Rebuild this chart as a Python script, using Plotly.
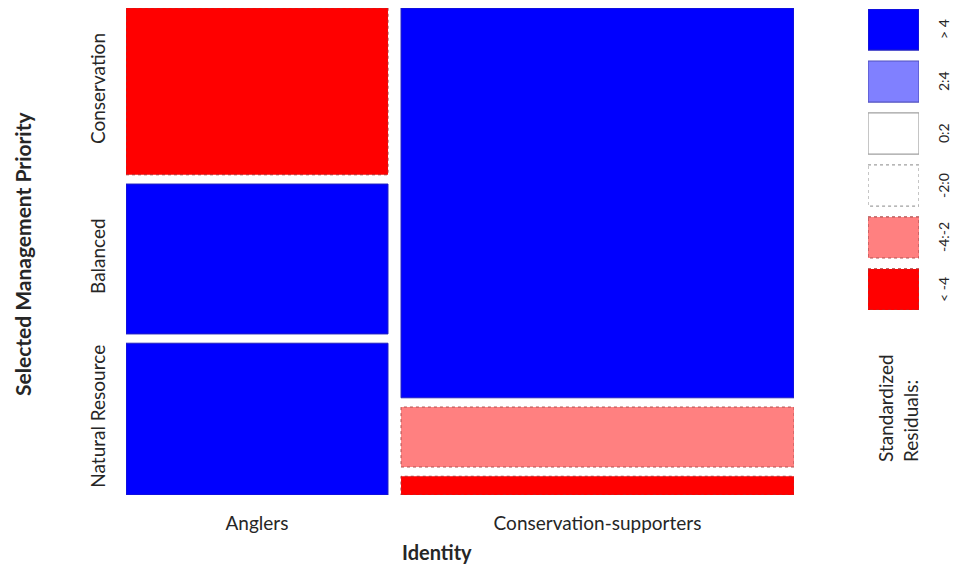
import plotly.graph_objects as go

# Contingency table: Identity x Selected Management Priority
identities = ["Anglers", "Conservation-supporters"]
priorities = ["Natural Resource", "Balanced", "Conservation"]  # bottom -> top
counts = {
    "Anglers": [81, 80, 89],
    "Conservation-supporters": [15, 48, 312],
}
# Standardized residual class of each cell (same order as priorities)
residual_class = {
    "Anglers": ["> 4", "> 4", "< -4"],
    "Conservation-supporters": ["< -4", "-4:-2", "> 4"],
}

legend_labels = ["> 4", "2:4", "0:2", "-2:0", "-4:-2", "< -4"]
legend_fill = ["#0000FF", "#8080FF", "#FFFFFF", "#FFFFFF", "#FF8080", "#FF0000"]
legend_line = ["#2020C0", "#5050C0", "#A0A0A0", "#A0A0A0", "#B05050", "#B03030"]
legend_dash = ["solid", "solid", "solid", "dot", "dot", "dot"]
style = {lab: (f, l, d) for lab, f, l, d in zip(legend_labels, legend_fill, legend_line, legend_dash)}

FONT = "Lato"
TXT = "#262626"
GAP_X = 0.0195
GAP_Y = 0.019

fig = go.Figure()

# Mosaic cells: widths from column totals, heights from conditional shares
grand = sum(sum(v) for v in counts.values())
usable_x = 1 - GAP_X * (len(identities) - 1)
x_left = 0.0
col_centers = []
angler_row_centers = []
for ident in identities:
    col_total = sum(counts[ident])
    w = usable_x * col_total / grand
    usable_y = 1 - GAP_Y * (len(priorities) - 1)
    y_bot = 0.0
    for k, pri in enumerate(priorities):
        h = usable_y * counts[ident][k] / col_total
        fill, line, dash = style[residual_class[ident][k]]
        x0, x1, y0, y1 = x_left, x_left + w, y_bot, y_bot + h
        fig.add_trace(go.Scatter(
            x=[x0, x1, x1, x0, x0], y=[y0, y0, y1, y1, y0],
            mode="lines", fill="toself", fillcolor=fill,
            line=dict(color=line, width=1, dash=dash),
            name=f"{ident} / {pri}", showlegend=False, hoverinfo="name",
            xaxis="x", yaxis="y",
        ))
        if ident == identities[0]:
            angler_row_centers.append((y0 + y1) / 2)
        y_bot = y1 + GAP_Y
    col_centers.append(x_left + w / 2)
    x_left += w + GAP_X

# Residual key boxes
BOX_H = 0.79
for i, lab in enumerate(legend_labels):
    fill, line, dash = style[lab]
    y0, y1 = i, i + BOX_H
    fig.add_trace(go.Scatter(
        x=[0, 1, 1, 0, 0], y=[y0, y0, y1, y1, y0],
        mode="lines", fill="toself", fillcolor=fill,
        line=dict(color=line, width=1.2, dash=dash),
        name=lab, showlegend=False, hoverinfo="name",
        xaxis="x2", yaxis="y2",
    ))
    fig.add_annotation(
        x=1, y=i + BOX_H / 2, xref="x2", yref="y2", xanchor="left", yanchor="middle",
        xshift=14, text=lab, textangle=-90, showarrow=False,
        font=dict(family=FONT, size=14, color=TXT),
    )

W, H = 955, 571
fig.update_layout(
    width=W, height=H, margin=dict(l=0, r=0, t=0, b=0),
    paper_bgcolor="white", plot_bgcolor="white",
    xaxis=dict(
        domain=[126 / W, 794 / W], range=[0, 1], showgrid=False, zeroline=False,
        showline=False, tickvals=col_centers, ticktext=identities,
        ticks="outside", ticklen=11, tickcolor="rgba(0,0,0,0)",
        tickfont=dict(family=FONT, size=19, color=TXT), fixedrange=True,
    ),
    yaxis=dict(
        domain=[1 - 495 / H, 1 - 8 / H], range=[0, 1], showgrid=False, zeroline=False,
        showline=False, tickvals=angler_row_centers, ticktext=priorities,
        tickangle=-90, ticks="outside", ticklen=12, tickcolor="rgba(0,0,0,0)",
        tickfont=dict(family=FONT, size=19, color=TXT), fixedrange=True,
    ),
    xaxis2=dict(
        domain=[868 / W, 919 / W], range=[0, 1], visible=False, fixedrange=True,
        anchor="y2",
    ),
    yaxis2=dict(
        domain=[1 - 310 / H, 1 - 9 / H], range=[len(legend_labels) - 1 + BOX_H, 0],
        visible=False, fixedrange=True, anchor="x2",
    ),
    annotations=list(fig.layout.annotations) + [
        dict(text="<b>Identity</b>", x=437 / W, y=1 - 552 / H, xref="paper", yref="paper",
             xanchor="center", yanchor="middle", showarrow=False,
             font=dict(family=FONT, size=20, color=TXT)),
        dict(text="<b>Selected Management Priority</b>", x=22 / W, y=1 - 254 / H,
             xref="paper", yref="paper", xanchor="center", yanchor="middle",
             textangle=-90, showarrow=False,
             font=dict(family=FONT, size=21, color=TXT)),
        dict(text="Standardized<br>Residuals:", x=898 / W, y=1 - 408 / H,
             xref="paper", yref="paper", xanchor="center", yanchor="middle",
             textangle=-90, showarrow=False, align="left",
             font=dict(family=FONT, size=19, color=TXT)),
    ],
)

fig.write_html("out.html")
